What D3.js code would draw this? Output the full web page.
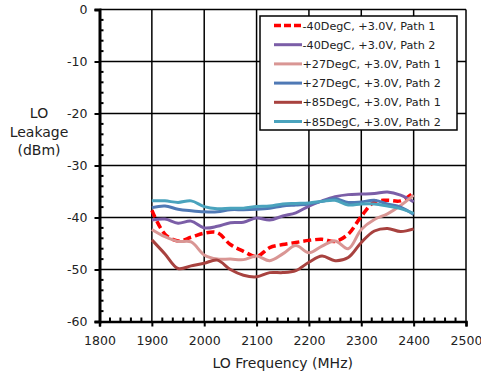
<!DOCTYPE html>
<html>
<head>
<meta charset="utf-8">
<script src="https://cdn.jsdelivr.net/npm/d3@7"></script>
<style>
  body { margin: 0; background: #fff; }
  text { font-family: "DejaVu Sans", sans-serif; fill: #222; }
</style>
</head>
<body>
<script>
const w = 481;
const h = 372;

const freqs = [1900, 1925, 1950, 1975, 2000, 2025, 2050, 2075, 2100, 2125, 2150,
  2175, 2200, 2225, 2250, 2275, 2300, 2325, 2350, 2375, 2400];

const seriesNames = [
  "-40DegC, +3.0V, Path 1",
  "-40DegC, +3.0V, Path 2",
  "+27DegC, +3.0V, Path 1",
  "+27DegC, +3.0V, Path 2",
  "+85DegC, +3.0V, Path 1",
  "+85DegC, +3.0V, Path 2"
];

const coldPath1 = [-38.6, -43.2, -44.5, -43.8, -43.0, -42.9, -45.2, -46.5, -47.5, -45.8, -45.2,
  -44.8, -44.4, -44.2, -44.6, -43.2, -39.8, -37.0, -36.7, -36.8, -35.2];
const coldPath2 = [-40.5, -40.3, -41.1, -40.7, -42.0, -41.7, -41.0, -40.9, -40.1, -40.5, -39.7,
  -39.1, -37.8, -36.8, -36.0, -35.6, -35.5, -35.4, -35.1, -35.7, -37.0];
const roomPath1 = [-42.3, -43.7, -44.6, -44.7, -47.2, -48.0, -48.0, -48.1, -47.4, -48.3, -47.0,
  -45.4, -46.8, -45.5, -44.5, -46.0, -42.3, -40.4, -39.3, -37.7, -35.7];
const roomPath2 = [-38.1, -37.8, -38.4, -38.7, -38.9, -38.9, -38.5, -38.5, -38.4, -38.2, -37.8,
  -37.6, -37.4, -36.9, -36.4, -37.1, -37.0, -36.7, -37.4, -38.0, -39.4];
const hotPath1 = [-44.3, -47.0, -49.8, -49.3, -48.8, -48.2, -50.0, -51.1, -51.4, -50.6, -50.6,
  -50.2, -48.6, -47.4, -48.3, -47.7, -44.8, -42.6, -42.1, -42.7, -42.2];
const hotPath2 = [-36.8, -36.8, -37.1, -36.8, -37.9, -38.3, -38.2, -38.2, -37.9, -37.8, -37.4,
  -37.3, -37.2, -36.9, -36.7, -37.6, -37.4, -37.4, -37.8, -38.3, -39.2];

const xTicks = [1800, 1900, 2000, 2100, 2200, 2300, 2400, 2500];
const yTicks = [0, -10, -20, -30, -40, -50, -60];

const allValues = [coldPath1, coldPath2, roomPath1, roomPath2, hotPath1, hotPath2];
const colors = ["#ff0000", "#7b5ea7", "#d99694", "#4f79b5", "#a8423f", "#4aa3bd"];

const plotLeft = 99.5, plotRight = 466, plotTop = 9.5, plotBottom = 321.5;

const svg = d3.select("body").append("svg").attr("width", w).attr("height", h);

const xScale = d3.scaleLinear().domain([1800, 2500]).range([plotLeft, plotRight]);
const yScale = d3.scaleLinear().domain([-60, 0]).range([plotBottom, plotTop]);

// grid
svg.append("g")
  .selectAll("line")
  .data(xTicks.slice(1))
  .enter()
  .append("line")
  .attr("x1", (d) => xScale(d))
  .attr("x2", (d) => xScale(d))
  .attr("y1", plotTop)
  .attr("y2", plotBottom)
  .attr("stroke", "#000")
  .attr("stroke-width", 1.5);

svg.append("g")
  .selectAll("line")
  .data(yTicks.slice(0, -1))
  .enter()
  .append("line")
  .attr("x1", plotLeft)
  .attr("x2", plotRight)
  .attr("y1", (d) => yScale(d))
  .attr("y2", (d) => yScale(d))
  .attr("stroke", "#000")
  .attr("stroke-width", 1.5);

// minor ticks (inside)
const xMinor = d3.range(1800, 2501, 20).filter((d) => d % 100 !== 0);
const yMinor = d3.range(-60, 1, 2).filter((d) => d % 10 !== 0);

const xAxis = d3.axisBottom(xScale).tickValues(xTicks).tickSize(5).tickPadding(10)
  .tickFormat((d) => String(d));
const xAxisG = svg.append("g")
  .attr("transform", "translate(0," + plotBottom + ")")
  .call(xAxis);
xAxisG.select(".domain").attr("stroke-width", 2.5);
xAxisG.selectAll(".tick line").attr("stroke-width", 2);
xAxisG.selectAll("text").attr("font-size", 12.5).attr("font-family", "DejaVu Sans").attr("fill", "#222");
xAxisG.selectAll(".minor")
  .data(xMinor)
  .enter()
  .append("line")
  .attr("class", "minor")
  .attr("x1", (d) => xScale(d))
  .attr("x2", (d) => xScale(d))
  .attr("y1", 0)
  .attr("y2", -4)
  .attr("stroke", "#000")
  .attr("stroke-width", 2);

const yAxis = d3.axisLeft(yScale).tickValues(yTicks).tickSize(5).tickPadding(7)
  .tickFormat((d) => String(d));
const yAxisG = svg.append("g")
  .attr("transform", "translate(" + plotLeft + ",0)")
  .call(yAxis);
yAxisG.select(".domain").attr("stroke-width", 3);
yAxisG.selectAll(".tick line").attr("stroke-width", 2);
yAxisG.selectAll("text").attr("font-size", 12.5).attr("font-family", "DejaVu Sans").attr("fill", "#222");
yAxisG.selectAll(".minor")
  .data(yMinor)
  .enter()
  .append("line")
  .attr("class", "minor")
  .attr("x1", 0)
  .attr("x2", 4)
  .attr("y1", (d) => yScale(d))
  .attr("y2", (d) => yScale(d))
  .attr("stroke", "#000")
  .attr("stroke-width", 2);

// series
const line = d3.line()
  .x((d) => xScale(d[0]))
  .y((d) => yScale(d[1]))
  .curve(d3.curveCatmullRom.alpha(0.5));

allValues.forEach((vals, i) => {
  svg.append("path")
    .datum(freqs.map((f, j) => [f, vals[j]]))
    .attr("d", line)
    .attr("fill", "none")
    .attr("stroke", colors[i])
    .attr("stroke-width", i === 0 ? 3.5 : 3)
    .attr("stroke-dasharray", i === 0 ? "8,4" : null)
    .attr("stroke-linejoin", "round");
});

// legend
const legend = svg.append("g");
legend.append("rect")
  .attr("x", 260)
  .attr("y", 16)
  .attr("width", 197)
  .attr("height", 114)
  .attr("fill", "#fff")
  .attr("stroke", "#000")
  .attr("stroke-width", 1.5);

seriesNames.forEach((name, i) => {
  const y = 25.5 + i * 19.2;
  legend.append("line")
    .attr("x1", 274)
    .attr("x2", 302)
    .attr("y1", y)
    .attr("y2", y)
    .attr("stroke", colors[i])
    .attr("stroke-width", i === 0 ? 3.5 : 3)
    .attr("stroke-dasharray", i === 0 ? "7,3" : null);
  legend.append("text")
    .attr("x", 302.5)
    .attr("y", y + 4)
    .attr("font-size", 11.2)
    .text(name);
});

// axis titles
const yTitle = svg.append("text")
  .attr("text-anchor", "middle")
  .attr("font-size", 14);
["LO", "Leakage", "(dBm)"].forEach((t, i) => {
  yTitle.append("tspan").attr("x", 39).attr("y", 118 + i * 18.5).text(t);
});

svg.append("text")
  .attr("x", xScale(2150))
  .attr("y", 368)
  .attr("text-anchor", "middle")
  .attr("font-size", 14)
  .text("LO Frequency (MHz)");
</script>
</body>
</html>
